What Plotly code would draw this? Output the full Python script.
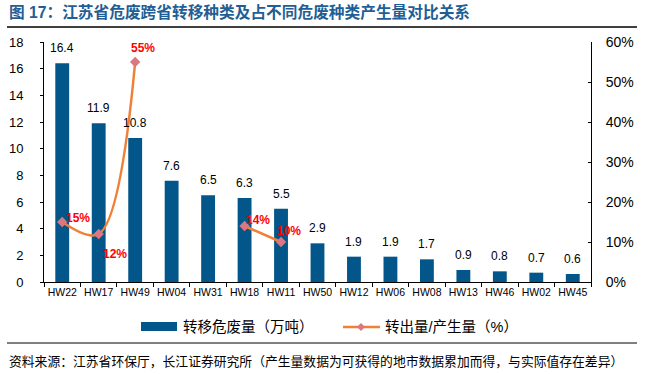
import plotly.graph_objects as go

categories = ["HW22", "HW17", "HW49", "HW04", "HW31", "HW18", "HW11", "HW50",
              "HW12", "HW06", "HW08", "HW13", "HW46", "HW02", "HW45"]
transfer_amount = [16.4, 11.9, 10.8, 7.6, 6.5, 6.3, 5.5, 2.9, 1.9, 1.9, 1.7, 0.9, 0.8, 0.7, 0.6]
transfer_ratio = [15, 12, 55, None, None, 14, 10, None, None, None, None, None, None, None, None]
ratio_labels = ["15%", "12%", "55%", None, None, "14%", "10%", None, None, None, None, None, None, None, None]
ratio_label_offsets = [(16, 4), (16, -20), (8, 14), None, None, (13, 6), (8, 11), None, None, None, None, None, None, None, None]

title_text = "图 17：江苏省危废跨省转移种类及占不同危废种类产生量对比关系"
legend_bar_text = "转移危废量（万吨）"
legend_line_text = "转出量/产生量（%）"
source_text = "资料来源：江苏省环保厅，长江证券研究所（产生量数据为可获得的地市数据累加而得，与实际值存在差异）"

FONT = "Liberation Sans, Arial, Noto Sans CJK SC, sans-serif"
BAR_COLOR = "#03568A"
LINE_COLOR = "#EE8037"
MARKER_COLOR = "#DA7780"

# plot area in pixels: x 44..591, y 42..282
L, R, T, B = 44, 591, 42, 282
W, H = R - L, B - T
def px(q):
    return (q - L) / W
def py(p):
    return (B - p) / H

fig = go.Figure()
fig.add_trace(go.Bar(
    x=categories, y=transfer_amount, name=legend_bar_text,
    marker=dict(color=BAR_COLOR, line=dict(width=0)),
    showlegend=False,
))
fig.add_trace(go.Scatter(
    x=categories, y=transfer_ratio, name=legend_line_text, yaxis="y2",
    mode="lines+markers", connectgaps=False,
    line=dict(color=LINE_COLOR, width=2.5, shape="spline", smoothing=1.0),
    marker=dict(symbol="diamond", size=8, color=MARKER_COLOR),
    cliponaxis=False, showlegend=False,
))

annotations = []
for c, v in zip(categories, transfer_amount):
    annotations.append(dict(x=c, y=v, xref="x", yref="y", text=f"{v:.1f}",
                            showarrow=False, yanchor="middle", yshift=15,
                            font=dict(size=12, color="#000000", family=FONT)))
for c, v, lab, off in zip(categories, transfer_ratio, ratio_labels, ratio_label_offsets):
    if lab is None:
        continue
    annotations.append(dict(x=c, y=v, xref="x", yref="y2", text=f"<b>{lab}</b>",
                            showarrow=False, xshift=off[0], yshift=off[1],
                            font=dict(size=12, color="#FF0000", family=FONT)))

annotations.append(dict(x=px(7), y=py(12), xref="paper", yref="paper", text=f"<b>{title_text}</b>",
                        showarrow=False, xanchor="left", yanchor="middle",
                        font=dict(size=15.7, color="#1F5F95", family=FONT)))
annotations.append(dict(x=px(7), y=py(361), xref="paper", yref="paper", text=source_text,
                        showarrow=False, xanchor="left", yanchor="middle",
                        font=dict(size=12.8, color="#000000", family=FONT)))
annotations.append(dict(x=px(181), y=py(327), xref="paper", yref="paper", text=legend_bar_text,
                        showarrow=False, xanchor="left", yanchor="middle",
                        font=dict(size=14.5, color="#000000", family=FONT)))
annotations.append(dict(x=px(383), y=py(327), xref="paper", yref="paper", text=legend_line_text,
                        showarrow=False, xanchor="left", yanchor="middle",
                        font=dict(size=14.5, color="#000000", family=FONT)))

dx, dy = 4 / W, 4 / H
mx, my = px(361), py(327)
shapes = [
    dict(type="line", xref="paper", yref="paper", x0=px(7), x1=px(637), y0=py(27), y1=py(27),
         line=dict(color="#000000", width=1.5)),
    dict(type="line", xref="paper", yref="paper", x0=px(7), x1=px(637), y0=py(343), y1=py(343),
         line=dict(color="#000000", width=1)),
    dict(type="rect", xref="paper", yref="paper", x0=px(141), x1=px(177), y0=py(322), y1=py(331),
         fillcolor=BAR_COLOR, line=dict(width=0)),
    dict(type="line", xref="paper", yref="paper", x0=px(343), x1=px(380), y0=py(327), y1=py(327),
         line=dict(color=LINE_COLOR, width=2.5)),
    dict(type="path", xref="paper", yref="paper",
         path=f"M {mx - dx},{my} L {mx},{my + dy} L {mx + dx},{my} L {mx},{my - dy} Z",
         fillcolor=MARKER_COLOR, line=dict(width=0)),
]

fig.update_layout(
    width=645, height=374,
    margin=dict(l=L, r=645 - R, t=T, b=374 - B, autoexpand=False),
    paper_bgcolor="white", plot_bgcolor="white",
    font=dict(family=FONT, size=12, color="#000000"),
    bargap=0.62,
    showlegend=False,
    xaxis=dict(type="category", range=[-0.5, len(categories) - 0.5],
               showline=True, linecolor="#000000", linewidth=1,
               ticks="outside", ticklen=4, tickcolor="#000000", tickson="boundaries",
               tickangle=0, automargin=False,
               tickfont=dict(size=10.5, family=FONT), showgrid=False),
    yaxis=dict(range=[0, 18], dtick=2, showline=True, linecolor="#000000", linewidth=1,
               ticks="outside", ticklen=3, tickcolor="#000000", showgrid=False,
               automargin=False, ticklabelstandoff=14,
               tickfont=dict(size=13, family=FONT), zeroline=False),
    yaxis2=dict(range=[0, 60], dtick=10, overlaying="y", side="right", showline=True,
                linecolor="#000000", linewidth=1, ticks="inside", ticklen=3,
                tickcolor="#000000", showgrid=False, ticksuffix="%",
                automargin=False, ticklabelstandoff=11,
                tickfont=dict(size=14, family=FONT), zeroline=False),
    annotations=annotations, shapes=shapes,
)

fig.write_html("out.html", config={"displayModeBar": False},
               post_script="document.body.style.margin='0';document.body.style.overflow='hidden';")
